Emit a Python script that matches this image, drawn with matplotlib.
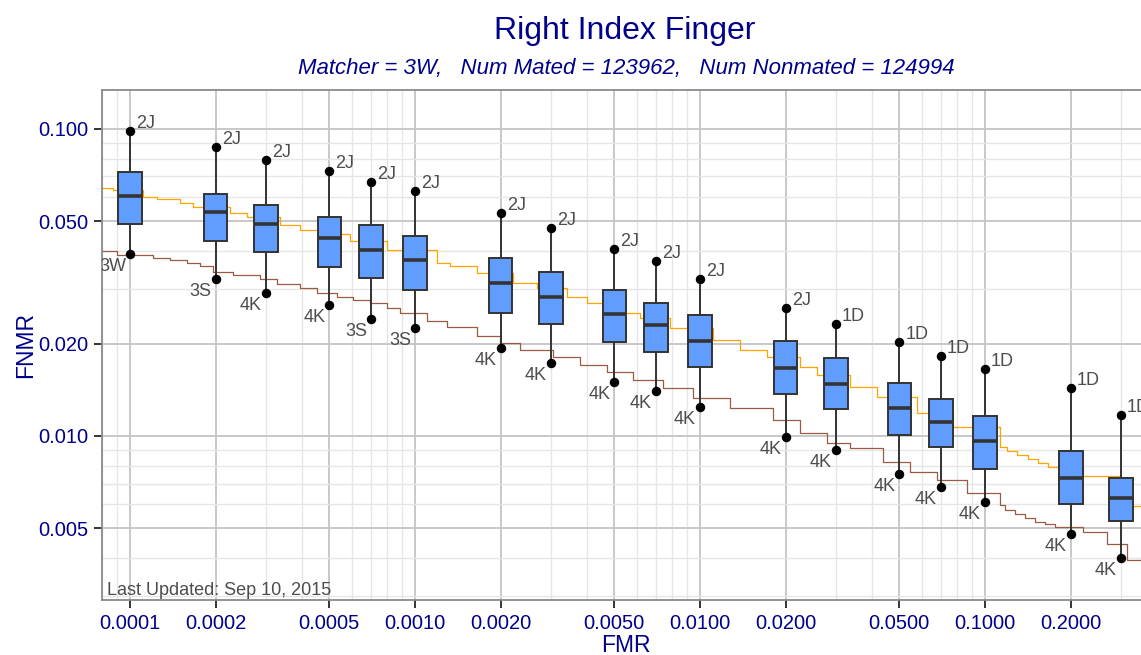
import matplotlib
matplotlib.use('Agg')
import matplotlib.pyplot as plt
from matplotlib.patches import Rectangle
from matplotlib.ticker import FixedLocator, FuncFormatter, NullFormatter

plt.rcParams['font.family'] = ['Liberation Sans', 'DejaVu Sans']

# ---------------- data ----------------
fmr_levels = [0.0001, 0.0002, 0.0003, 0.0005, 0.0007, 0.001, 0.002, 0.003, 0.005,
              0.007, 0.01, 0.02, 0.03, 0.05, 0.07, 0.1, 0.2, 0.3]
fnmr_max = [0.0985, 0.0876, 0.0794, 0.0731, 0.0674, 0.0630, 0.0531, 0.0477, 0.0405,
            0.0370, 0.0325, 0.0261, 0.0231, 0.0202, 0.0182, 0.0165, 0.0143, 0.0117]
fnmr_q3 = [0.0723, 0.0612, 0.0567, 0.0518, 0.0487, 0.0448, 0.0380, 0.0342, 0.0299,
           0.0271, 0.0248, 0.0204, 0.0179, 0.0149, 0.0132, 0.0116, 0.0089, 0.0073]
fnmr_med = [0.0605, 0.0536, 0.0491, 0.0441, 0.0402, 0.0373, 0.0314, 0.0284, 0.0250,
            0.0229, 0.0204, 0.0167, 0.0148, 0.0123, 0.0111, 0.0096, 0.0073, 0.0063]
fnmr_q1 = [0.0489, 0.0432, 0.0396, 0.0354, 0.0327, 0.0298, 0.0252, 0.0232, 0.0202,
           0.0187, 0.0168, 0.0137, 0.0122, 0.0101, 0.0092, 0.0078, 0.0060, 0.0053]
fnmr_min = [0.0390, 0.0325, 0.0292, 0.0267, 0.0241, 0.0224, 0.0194, 0.0173, 0.0150,
            0.0140, 0.0124, 0.0099, 0.0090, 0.0075, 0.0068, 0.0061, 0.0048, 0.0040]
top_labels = ['2J'] * 12 + ['1D'] * 6
bottom_labels = ['3W', '3S', '4K', '4K', '3S', '3S'] + ['4K'] * 12

orange_fmr = [8.06e-5, 8.74e-5, 1.113e-4, 1.241e-4, 1.497e-4, 1.668e-4, 2.243e-4, 2.567e-4,
              3.36e-4, 3.95e-4, 4.64e-4, 5.91e-4, 7.96e-4, 1.192e-3, 1.327e-3, 1.646e-3,
              2.213e-3, 2.673e-3, 3.407e-3, 4.005e-3, 4.963e-3, 6.158e-3, 7.847e-3,
              0.01113, 0.01381, 0.01714, 0.02243, 0.02567, 0.0336, 0.0417, 0.0576, 0.0774,
              0.1129, 0.1192, 0.1292, 0.1419, 0.1538, 0.1668, 0.2213, 0.2977, 0.41]
orange_fnmr = [0.0644, 0.0633, 0.0602, 0.0592, 0.0574, 0.0557, 0.0532, 0.0518, 0.0487,
               0.0469, 0.0455, 0.0430, 0.0402, 0.0367, 0.0358, 0.0340, 0.0314, 0.0303,
               0.0284, 0.0271, 0.0251, 0.0242, 0.0224, 0.02055, 0.01906, 0.01813, 0.01674,
               0.0158, 0.01447, 0.01343, 0.01186, 0.01072, 0.00923, 0.00896, 0.00867,
               0.00842, 0.00815, 0.00791, 0.00741, 0.00593, 0.00593]

brown_fmr = [8.06e-5, 8.98e-5, 1.207e-4, 1.382e-4, 1.58e-4, 1.761e-4, 1.96e-4, 2.304e-4,
             2.858e-4, 3.272e-4, 3.95e-4, 4.52e-4, 5.31e-4, 6.07e-4, 6.95e-4, 7.96e-4,
             8.86e-4, 1.099e-3, 1.292e-3, 1.646e-3, 1.987e-3, 2.335e-3, 3.057e-3, 3.793e-3,
             4.705e-3, 5.834e-3, 7.433e-3, 9.47e-3, 0.01274, 0.01808, 0.02243, 0.02783,
             0.0336, 0.044, 0.0546, 0.0677, 0.0863, 0.1129, 0.1175, 0.1274, 0.1382, 0.1498,
             0.1624, 0.1760, 0.2213, 0.2673, 0.3143, 0.41]
brown_fnmr = [0.0400, 0.0389, 0.0379, 0.0374, 0.0365, 0.0359, 0.0343, 0.0335, 0.0324,
              0.0313, 0.0303, 0.0293, 0.0284, 0.0277, 0.0271, 0.0261, 0.0251, 0.0236,
              0.0227, 0.0211, 0.02004, 0.01906, 0.01804, 0.01703, 0.01620, 0.01522, 0.0143,
              0.01327, 0.01231, 0.01127, 0.0102, 0.00947, 0.00912, 0.00825, 0.00765,
              0.00719, 0.00651, 0.00596, 0.00574, 0.00556, 0.0054, 0.00526, 0.00516,
              0.00507, 0.00488, 0.00444, 0.00395, 0.00395]

x_major = [0.0001, 0.0002, 0.0005, 0.001, 0.002, 0.005, 0.01, 0.02, 0.05, 0.1, 0.2]
y_major = [0.005, 0.01, 0.02, 0.05, 0.1]
minor_mult = [3, 4, 6, 7, 8, 9]

title = 'Right Index Finger'
subtitle = 'Matcher = 3W,   Num Mated = 123962,   Num Nonmated = 124994'
footnote = 'Last Updated: Sep 10, 2015'

# ---------------- figure ----------------
W, H = 1141, 655
NAVY = '#00008B'
DARK = '#333333'
GREYTXT = '#4D4D4D'

fig = plt.figure(figsize=(W / 100, H / 100), dpi=100)
ax = fig.add_axes([102 / W, 1 - 600 / H, (1150 - 102) / W, (600 - 90) / H])
ax.set_xscale('log')
ax.set_yscale('log')
ax.set_xlim(7.975e-5, 0.3792)
ax.set_ylim(0.002922, 0.1339)

x_minor = [m * 10.0 ** k for k in range(-5, 0) for m in minor_mult]
y_minor = [m * 10.0 ** k for k in range(-3, -1) for m in minor_mult]
ax.xaxis.set_major_locator(FixedLocator(x_major))
ax.xaxis.set_minor_locator(FixedLocator(x_minor))
ax.yaxis.set_major_locator(FixedLocator(y_major))
ax.yaxis.set_minor_locator(FixedLocator(y_minor))
ax.xaxis.set_major_formatter(FuncFormatter(lambda v, p: f'{v:.4f}'))
ax.yaxis.set_major_formatter(FuncFormatter(lambda v, p: f'{v:.3f}'))
ax.xaxis.set_minor_formatter(NullFormatter())
ax.yaxis.set_minor_formatter(NullFormatter())

ax.grid(which='major', color='#C4C4C4', lw=1.3, zorder=0)
ax.grid(which='minor', color='#E6E6E6', lw=1.0, zorder=0)
ax.set_axisbelow(True)
for s in ax.spines.values():
    s.set_color('#8A8A8A')
    s.set_linewidth(1.3)

ax.tick_params(which='minor', length=0)
ax.tick_params(which='major', length=5.5, width=1.4, color=DARK,
               labelsize=14.5, labelcolor=NAVY)
ax.tick_params(axis='x', which='major', pad=4.5)
ax.tick_params(axis='y', which='major', pad=4)

# step curves
ax.plot(orange_fmr, orange_fnmr, drawstyle='steps-post', color='#FFA500', lw=0.9, zorder=2)
ax.plot(brown_fmr, brown_fnmr, drawstyle='steps-post', color='#9A5B45', lw=0.9, zorder=2)

# boxes
half = 10 ** 0.041
for i, x in enumerate(fmr_levels):
    left, right = x / half, x * half
    ax.vlines(x, fnmr_q3[i], fnmr_max[i], color=DARK, lw=1.4, zorder=3)
    ax.vlines(x, fnmr_min[i], fnmr_q1[i], color=DARK, lw=1.4, zorder=3)
    ax.add_patch(Rectangle((left, fnmr_q1[i]), right - left, fnmr_q3[i] - fnmr_q1[i],
                           facecolor='#619CFF', edgecolor=DARK, lw=1.4, zorder=4))
    ax.plot([left, right], [fnmr_med[i], fnmr_med[i]], color=DARK, lw=2.6,
            solid_capstyle='butt', zorder=5)

ax.plot(fmr_levels, fnmr_max, 'o', color='black', ms=5.8, zorder=6)
ax.plot(fmr_levels, fnmr_min, 'o', color='black', ms=5.8, zorder=6)

for i, x in enumerate(fmr_levels):
    t1 = ax.annotate(top_labels[i], (x, fnmr_max[i]), xytext=(6, 3),
                     textcoords='offset pixels', ha='left', va='baseline',
                     fontsize=13, color=GREYTXT, zorder=7, annotation_clip=False)
    t2 = ax.annotate(bottom_labels[i], (x, fnmr_min[i]), xytext=(-4, -17),
                     textcoords='offset pixels', ha='right', va='baseline',
                     fontsize=13, color=GREYTXT, zorder=7, annotation_clip=False)
    for t in (t1, t2):
        t.set_clip_on(True)
        t.set_clip_path(ax.patch)

ax.text(5 / 1048, 5 / 510, footnote, transform=ax.transAxes, ha='left', va='baseline',
        fontsize=13, color=GREYTXT, zorder=7)

ax.set_xlabel('FMR', fontsize=16.5, color=NAVY)
ax.xaxis.set_label_coords(0.5, -0.066)
ax.set_ylabel('FNMR', fontsize=16.5, color=NAVY)
ax.yaxis.set_label_coords(-0.062, 0.5)

fig.text(625 / W, 1 - 39 / H, title, ha='center', va='baseline', fontsize=23, color=NAVY)
fig.text(626 / W, 1 - 74 / H, subtitle, ha='center', va='baseline', fontsize=16,
         style='italic', color=NAVY)

fig.savefig('out.png', dpi=100)
